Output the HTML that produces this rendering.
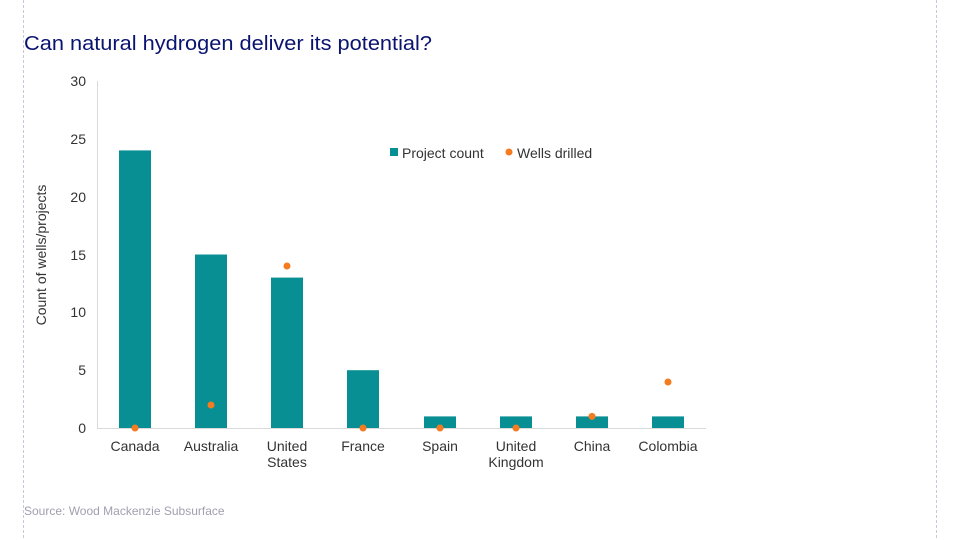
<!DOCTYPE html>
<html><head><meta charset="utf-8"><style>
body{margin:0;background:#fff;}
svg{display:block;font-family:"Liberation Sans",sans-serif;}
</style></head><body>
<svg width="960" height="540" viewBox="0 0 960 540">
<line x1="23.5" y1="0" x2="23.5" y2="540" stroke="#c8c8d8" stroke-dasharray="3,2"/>
<line x1="936.5" y1="0" x2="936.5" y2="540" stroke="#c8c8d8" stroke-dasharray="3,2"/>
<text x="24" y="50" font-size="20" fill="#0a1370" textLength="408" lengthAdjust="spacingAndGlyphs" font-weight="500">Can natural hydrogen deliver its potential?</text>
<g font-size="14" fill="#333" text-anchor="end">
<text x="86" y="433">0</text><text x="86" y="375">5</text><text x="86" y="317">10</text>
<text x="86" y="260">15</text><text x="86" y="202">20</text><text x="86" y="144">25</text><text x="86" y="86">30</text>
</g>
<line x1="97.5" y1="81" x2="97.5" y2="429" stroke="#d9d9d9"/>
<line x1="97" y1="428.5" x2="706" y2="428.5" stroke="#d9d9d9"/>
<text transform="translate(46,255) rotate(-90)" font-size="14" fill="#333" text-anchor="middle">Count of wells/projects</text>
<g fill="#078f94">
<rect x="119" y="150.4" width="32" height="277.6"/>
<rect x="195" y="254.5" width="32" height="173.5"/>
<rect x="271" y="277.6" width="32" height="150.4"/>
<rect x="347" y="370.2" width="32" height="57.8"/>
<rect x="424" y="416.4" width="32" height="11.6"/>
<rect x="500" y="416.4" width="32" height="11.6"/>
<rect x="576" y="416.4" width="32" height="11.6"/>
<rect x="652" y="416.4" width="32" height="11.6"/>
</g>
<g fill="#f47b20">
<circle cx="135" cy="428" r="3.5"/><circle cx="211" cy="405" r="3.5"/>
<circle cx="287" cy="266" r="3.5"/><circle cx="363" cy="428" r="3.5"/>
<circle cx="440" cy="428" r="3.5"/><circle cx="516" cy="428" r="3.5"/>
<circle cx="592" cy="416.4" r="3.5"/><circle cx="668" cy="382" r="3.5"/>
</g>
<g font-size="14" fill="#333" text-anchor="middle">
<text x="135" y="451">Canada</text><text x="211" y="451">Australia</text>
<text x="287" y="451">United</text><text x="287" y="467">States</text>
<text x="363" y="451">France</text><text x="440" y="451">Spain</text>
<text x="516" y="451">United</text><text x="516" y="467">Kingdom</text>
<text x="592" y="451">China</text><text x="668" y="451">Colombia</text>
</g>
<rect x="390" y="148" width="8" height="8" fill="#078f94"/>
<text x="402" y="158" font-size="14" fill="#333">Project count</text>
<circle cx="509" cy="152" r="3.5" fill="#f47b20"/>
<text x="517" y="158" font-size="14" fill="#333">Wells drilled</text>
<text x="24" y="515" font-size="12" fill="#a0a0b0">Source: Wood Mackenzie Subsurface</text>
</svg>
</body></html>
